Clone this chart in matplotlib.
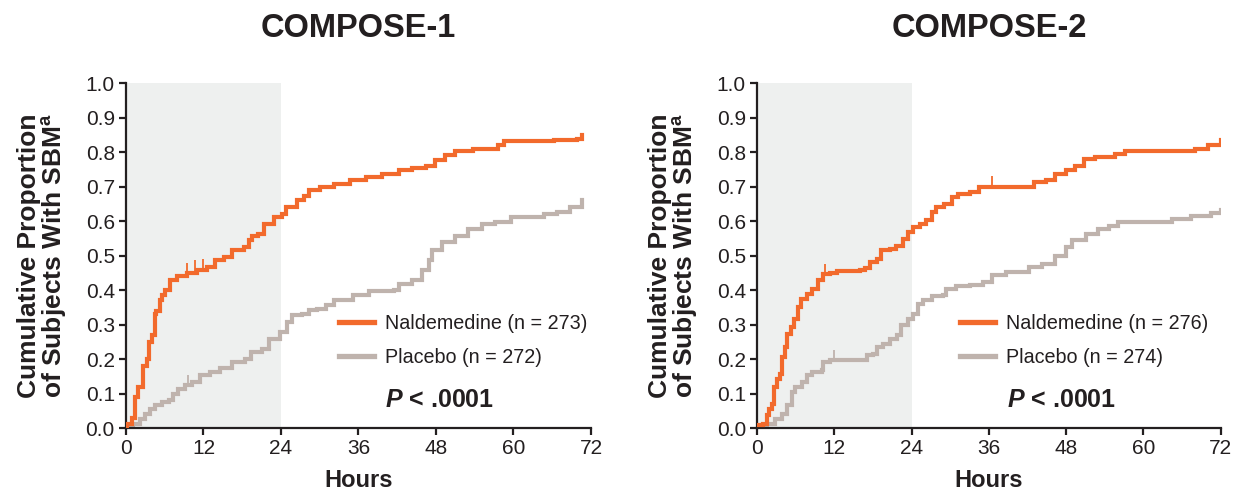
import matplotlib
matplotlib.use("Agg")
import matplotlib.pyplot as plt
from matplotlib.lines import Line2D

plt.rcParams['font.family'] = ['Liberation Sans', 'DejaVu Sans']
plt.rcParams['mathtext.fontset'] = 'custom'
plt.rcParams['mathtext.rm'] = 'Liberation Sans'
plt.rcParams['mathtext.bf'] = 'Liberation Sans:bold'
plt.rcParams['mathtext.it'] = 'Liberation Sans:italic'
plt.rcParams['mathtext.bfit'] = 'Liberation Sans:italic:bold'

# ---------------- data ----------------
titles = ["COMPOSE-1", "COMPOSE-2"]
nal_labels = ["Naldemedine (n = 273)", "Naldemedine (n = 276)"]
pla_labels = ["Placebo (n = 272)", "Placebo (n = 274)"]
p_text = "$\\mathbfit{P}$ < .0001"
x_ticks = [0, 12, 24, 36, 48, 60, 72]
y_ticks = [0.0, 0.1, 0.2, 0.3, 0.4, 0.5, 0.6, 0.7, 0.8, 0.9, 1.0]
shade_end = 24

# COMPOSE-1 naldemedine
c1_nal_h = [0, 0.1, 0.9, 1.4, 1.9, 2.6, 3.2, 3.5, 4.0, 4.5, 4.7, 5.2, 5.5, 6.0, 6.8, 7.9,
            9.4, 11.0, 12.5, 13.8, 15.1, 16.4, 18.2, 19.0, 19.5, 20.5, 21.3, 22.9, 24.2,
            24.7, 26.5, 27.5, 28.3, 30.1, 32.2, 34.7, 37.2, 39.7, 42.3, 44.3, 46.4, 47.9,
            49.4, 51.0, 53.7, 57.6, 58.6, 66.3, 69.8, 70.6]
c1_nal_v = [0, 0.013, 0.03, 0.09, 0.12, 0.18, 0.20, 0.25, 0.27, 0.33, 0.34, 0.37, 0.385,
            0.40, 0.43, 0.44, 0.45, 0.457, 0.467, 0.486, 0.496, 0.515, 0.525, 0.544, 0.558,
            0.563, 0.592, 0.611, 0.621, 0.64, 0.66, 0.674, 0.689, 0.699, 0.708, 0.718,
            0.727, 0.737, 0.747, 0.755, 0.761, 0.776, 0.79, 0.803, 0.81, 0.819, 0.831,
            0.836, 0.839, 0.848]
c1_nal_cens_h = [9.4, 10.7, 12.0]
c1_nal_cens_v = [0.45, 0.457, 0.46]

# COMPOSE-1 placebo
c1_pla_h = [0, 1.1, 2.2, 2.9, 3.7, 4.5, 5.5, 6.6, 7.3, 8.1, 9.2, 10.2, 11.5, 13.0, 14.6,
            16.4, 18.5, 19.3, 21.1, 22.1, 23.9, 24.9, 25.7, 27.3, 28.3, 29.6, 30.9, 32.2,
            35.1, 37.7, 41.5, 42.3, 44.3, 45.8, 46.9, 47.4, 48.9, 51.0, 53.0, 55.1, 57.1,
            59.6, 63.2, 64.7, 66.8, 68.8, 70.6]
c1_pla_v = [0, 0.013, 0.027, 0.04, 0.056, 0.066, 0.075, 0.08, 0.10, 0.114, 0.124, 0.133,
            0.153, 0.162, 0.175, 0.191, 0.20, 0.22, 0.23, 0.259, 0.278, 0.307, 0.327, 0.331,
            0.341, 0.346, 0.358, 0.37, 0.385, 0.397, 0.399, 0.418, 0.428, 0.457, 0.486,
            0.515, 0.539, 0.558, 0.578, 0.592, 0.597, 0.612, 0.612, 0.621, 0.626, 0.641, 0.66]
c1_pla_cens_h = [9.6]
c1_pla_cens_v = [0.124]

# COMPOSE-2 naldemedine
c2_nal_h = [0, 1.0, 1.5, 1.8, 2.3, 2.6, 3.1, 3.6, 3.9, 4.4, 4.6, 5.2, 5.7, 6.4, 6.9, 7.7,
            8.5, 9.5, 10.3, 11.3, 12.4, 16.0, 16.8, 17.5, 18.6, 19.3, 20.6, 21.6, 22.7,
            23.5, 24.2, 25.3, 26.3, 27.1, 27.8, 29.1, 30.2, 31.2, 33.0, 34.5, 41.7, 43.0,
            44.8, 46.3, 47.9, 49.4, 50.7, 52.5, 55.6, 57.1, 66.9, 68.0, 70.0, 72.0]
c2_nal_v = [0.008, 0.013, 0.037, 0.056, 0.07, 0.12, 0.143, 0.157, 0.206, 0.235, 0.273,
            0.293, 0.317, 0.351, 0.375, 0.389, 0.404, 0.428, 0.447, 0.449, 0.455, 0.457,
            0.465, 0.481, 0.491, 0.515, 0.52, 0.529, 0.549, 0.568, 0.583, 0.592, 0.602,
            0.626, 0.641, 0.65, 0.67, 0.679, 0.684, 0.699, 0.70, 0.713, 0.718, 0.737,
            0.747, 0.761, 0.779, 0.785, 0.793, 0.803, 0.803, 0.81, 0.819, 0.834]
c2_nal_cens_h = [10.6, 36.5]
c2_nal_cens_v = [0.447, 0.70]

# COMPOSE-2 placebo
c2_pla_h = [0, 1.5, 2.8, 3.9, 4.6, 5.4, 5.9, 7.0, 7.7, 8.5, 10.1, 10.3, 11.3, 16.5, 17.0,
            18.0, 18.6, 19.6, 20.6, 21.7, 22.4, 23.5, 24.2, 25.0, 25.8, 27.1, 28.9, 29.4,
            30.9, 33.0, 35.1, 36.5, 38.6, 42.2, 44.2, 46.3, 47.9, 48.9, 51.0, 53.0, 54.6,
            56.1, 62.3, 64.4, 67.4, 70.5, 72.0]
c2_pla_v = [0, 0.013, 0.027, 0.04, 0.066, 0.104, 0.119, 0.133, 0.153, 0.162, 0.167, 0.191,
            0.196, 0.198, 0.211, 0.215, 0.235, 0.244, 0.259, 0.271, 0.298, 0.317, 0.331,
            0.36, 0.37, 0.382, 0.385, 0.404, 0.411, 0.414, 0.423, 0.443, 0.452, 0.467,
            0.476, 0.50, 0.525, 0.546, 0.561, 0.578, 0.587, 0.597, 0.597, 0.607, 0.616,
            0.623, 0.631]
c2_pla_cens_h = [12.0]
c2_pla_cens_v = [0.196]

panels = [
    (c1_nal_h, c1_nal_v, c1_nal_cens_h, c1_nal_cens_v,
     c1_pla_h, c1_pla_v, c1_pla_cens_h, c1_pla_cens_v),
    (c2_nal_h, c2_nal_v, c2_nal_cens_h, c2_nal_cens_v,
     c2_pla_h, c2_pla_v, c2_pla_cens_h, c2_pla_cens_v),
]

NAL = '#F26A2C'
PLA = '#BFB3AD'
SHADE = '#EEF0EF'
INK = '#231F20'

fig = plt.figure(figsize=(12.4, 4.9), dpi=100)
axes = [fig.add_axes([0.1016, 0.1265, 0.375, 0.704]),
        fig.add_axes([0.6105, 0.1265, 0.374, 0.704])]

for i, ax in enumerate(axes):
    nh, nv, nch, ncv, ph, pv, pch, pcv = panels[i]
    ax.axvspan(0, shade_end, color=SHADE, zorder=0, lw=0)
    ax.plot(ph, pv, drawstyle='steps-post', color=PLA, lw=3.0, zorder=2,
            solid_joinstyle='miter')
    ax.plot(nh, nv, drawstyle='steps-post', color=NAL, lw=3.0, zorder=3,
            solid_joinstyle='miter')
    ax.plot(pch, [v + 0.012 for v in pcv], ls='none', marker='|', ms=9, mew=1.3,
            color=PLA, zorder=2)
    ax.plot(nch, [v + 0.012 for v in ncv], ls='none', marker='|', ms=9, mew=1.3,
            color=NAL, zorder=3)

    ax.set_xlim(0, 72)
    ax.set_ylim(0, 1.0)
    ax.set_xticks(x_ticks)
    ax.set_yticks(y_ticks)
    ax.set_yticklabels([f"{t:.1f}" for t in y_ticks])
    for s in ['top', 'right']:
        ax.spines[s].set_visible(False)
    for s in ['left', 'bottom']:
        ax.spines[s].set_linewidth(1.6)
        ax.spines[s].set_color(INK)
    ax.tick_params(axis='both', direction='out', length=5, width=1.6, color=INK,
                   labelsize=15, labelcolor=INK, pad=3)
    ax.set_xlabel("Hours", fontsize=17, fontweight='bold', color=INK, labelpad=7.5)
    ax.set_ylabel("Cumulative Proportion\nof Subjects With SBM$^{\\mathbf{a}}$",
                  fontsize=19, fontweight='bold', color=INK, labelpad=12,
                  linespacing=0.95)
    ax.set_title(titles[i], fontsize=23.5, fontweight='bold', color=INK, pad=33)

    handles = [Line2D([0], [0], color=NAL, lw=3.8),
               Line2D([0], [0], color=PLA, lw=3.8)]
    ax.legend(handles, [nal_labels[i], pla_labels[i]], loc='upper left',
              bbox_to_anchor=(0.458 if i == 0 else 0.437, 0.33), frameon=False,
              fontsize=14.2, handlelength=1.8, handletextpad=0.55, labelspacing=0.75,
              borderpad=0, borderaxespad=0, labelcolor=INK)
    ax.text(0.675 if i == 0 else 0.657, 0.08, p_text, transform=ax.transAxes,
            ha='center', va='center', fontsize=18, fontweight='bold', color=INK)

fig.savefig("out.png", dpi=100)
